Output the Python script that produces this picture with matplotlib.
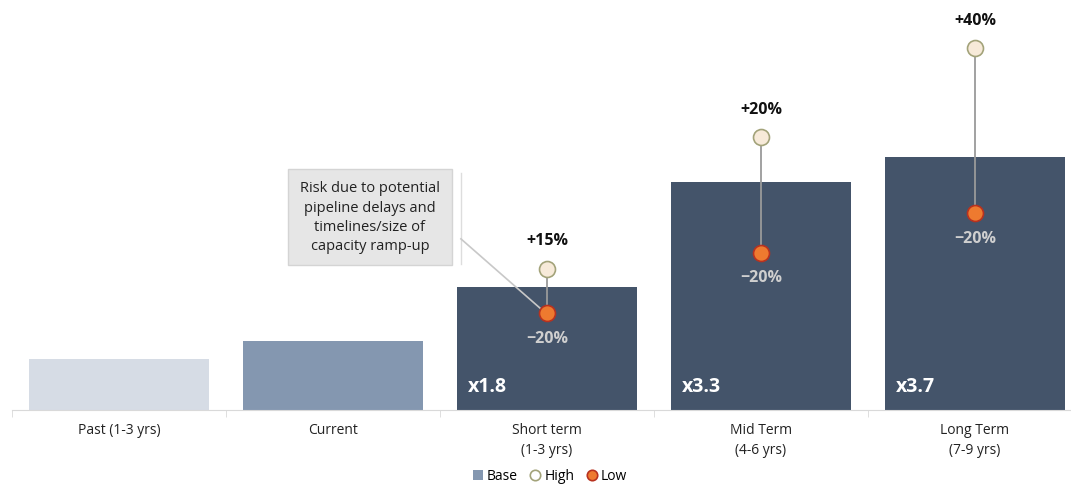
import matplotlib.pyplot as plt
from matplotlib.lines import Line2D
from matplotlib.patches import Patch

# data (relative to "Current" = 1.0)
categories = ["Past (1-3 yrs)", "Current", "Short term\n(1-3 yrs)",
              "Mid Term\n(4-6 yrs)", "Long Term\n(7-9 yrs)"]
base = [0.74, 1.0, 1.78, 3.31, 3.67]
multipliers = ["", "", "x1.8", "x3.3", "x3.7"]
high = [None, None, 2.04, 3.95, 5.24]
low = [None, None, 1.40, 2.28, 2.85]
high_labels = ["", "", "+15%", "+20%", "+40%"]
low_labels = ["", "", "\u221220%", "\u221220%", "\u221220%"]
bar_colors = ["#d6dce5", "#8497b0", "#44546a", "#44546a", "#44546a"]

plt.rcParams['font.family'] = ['Open Sans', 'DejaVu Sans']

fig = plt.figure(figsize=(10.71, 4.85), dpi=100)
ax = fig.add_axes([12 / 1071, 1 - 411 / 485, 1 - 12 / 1071, 411 / 485])

x = list(range(len(categories)))
ax.bar(x, base, width=0.84, color=bar_colors, zorder=1)

ax.set_xlim(-0.5, 4.449)
ax.set_ylim(0, 411 / 69)

for i in x:
    if high[i] is None:
        continue
    ax.plot([i, i], [low[i], high[i]], color="#9a9a9a", lw=1.3, zorder=2)
    ax.plot(i, high[i], "o", ms=11.5, mfc="#f7ead9", mec="#a3a37a", mew=1.2, zorder=3)
    ax.plot(i, low[i], "o", ms=11.5, mfc="#ee7a2f", mec="#b8321f", mew=1.2, zorder=3)
    ax.annotate(high_labels[i], (i, high[i]), xytext=(0, 15), textcoords="offset points",
                ha="center", va="bottom", fontsize=11.5, fontweight="bold", color="#111111")
    ax.annotate(low_labels[i], (i, low[i]), xytext=(0, -12), textcoords="offset points",
                ha="center", va="top", fontsize=11.5, fontweight="bold", color="#cfcfcf")
    ax.annotate(multipliers[i], (i - 0.42, 0), xytext=(8, 17), textcoords="offset points",
                ha="left", va="center", fontsize=14, fontweight="bold", color="white")

# callout box with leader line
ax.text(1.173, 2.80, "Risk due to potential\npipeline delays and\ntimelines/size of\ncapacity ramp-up",
        ha="center", va="center", fontsize=10.5, color="#222222", linespacing=1.4,
        bbox=dict(boxstyle="square,pad=0.8", fc="#e6e6e6", ec="#d4d4d4", lw=1), zorder=4)
ax.plot([1.598, 1.598], [2.12, 3.43], color="#dddddd", lw=1, zorder=0)
ax.plot([1.598, 1.97], [2.48, 1.47], color="#c8c8c8", lw=1.2, zorder=2)

# axes styling
for s in ["top", "right", "left"]:
    ax.spines[s].set_visible(False)
ax.spines["bottom"].set_color("#d9d9d9")
ax.set_yticks([])
ax.set_xticks(x)
ax.set_xticklabels(categories, fontsize=10, color="#222222", linespacing=1.4)
ax.tick_params(axis="x", which="major", length=0, pad=9)
ax.set_xticks([-0.5, 0.5, 1.5, 2.5, 3.5], minor=True)
ax.tick_params(axis="x", which="minor", length=5, color="#d9d9d9")

handles = [Patch(fc="#8497b0", ec="none"),
           Line2D([], [], ls="", marker="o", ms=7.5, mfc="white", mec="#a3a37a", mew=1.2),
           Line2D([], [], ls="", marker="o", ms=7.5, mfc="#ee7a2f", mec="#b8321f", mew=1.2)]
fig.legend(handles, ["Base", "High", "Low"], loc="center", bbox_to_anchor=(550 / 1071, 1 - 477 / 485),
           ncol=3, frameon=False, fontsize=10, handlelength=0.7, handletextpad=0.3,
           columnspacing=0.9, handleheight=0.7)

fig.savefig("out.png", dpi=100)
